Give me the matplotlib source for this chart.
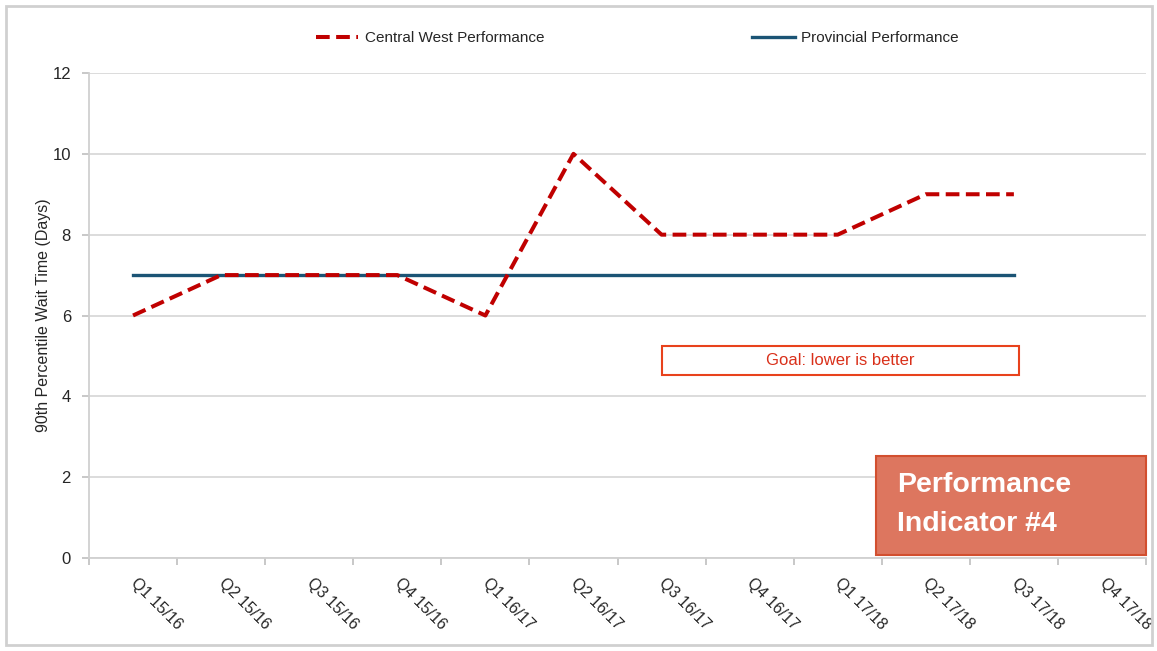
import numpy as np
import matplotlib.pyplot as plt
from matplotlib.patches import Rectangle

# data
quarters = ['Q1 15/16', 'Q2 15/16', 'Q3 15/16', 'Q4 15/16',
            'Q1 16/17', 'Q2 16/17', 'Q3 16/17', 'Q4 16/17',
            'Q1 17/18', 'Q2 17/18', 'Q3 17/18', 'Q4 17/18']
central_west = [6, 7, 7, 7, 6, 10, 8, 8, 8, 9, 9]
provincial = [7, 7, 7, 7, 7, 7, 7, 7, 7, 7, 7]

plt.rcParams['font.family'] = ['Liberation Sans', 'DejaVu Sans']

W, H = 1157, 651
fig = plt.figure(figsize=(W / 100, H / 100), dpi=100)
ax = fig.add_axes([89 / W, 1 - 558 / H, (1146 - 89) / W, (558 - 73) / H])

x_cw = np.arange(len(central_west))
x_pv = np.arange(len(provincial))
cw_line, = ax.plot(x_cw, central_west, color='#C00000', lw=2.9,
                   dashes=(3.4, 1.6), dash_capstyle='butt',
                   label='Central West Performance', zorder=3)
pv_line, = ax.plot(x_pv, provincial, color='#1B5475', lw=2.4,
                   label='Provincial Performance', zorder=2)

ax.set_xlim(-0.5, len(quarters) - 0.5)
ax.set_ylim(0, 12)
ax.set_yticks(range(0, 13, 2))
ax.yaxis.grid(True, color='#D9D9D9', lw=1.3)
ax.set_axisbelow(True)

ax.set_xticks(np.arange(len(quarters)))
ax.set_xticklabels(quarters, rotation=-45, ha='left', va='center',
                   rotation_mode='anchor', fontsize=11.5, color='#262626')
ax.tick_params(axis='x', which='major', length=0, pad=16)
ax.set_xticks(np.arange(len(quarters) + 1) - 0.5, minor=True)
ax.tick_params(axis='x', which='minor', length=5, color='#BFBFBF', width=1.2)
ax.tick_params(axis='y', length=5, color='#BFBFBF', width=1.2,
               labelsize=12, labelcolor='#262626', pad=8)

for s in ['top', 'right']:
    ax.spines[s].set_visible(False)
for s in ['left', 'bottom']:
    ax.spines[s].set_color('#D0D0D0')
    ax.spines[s].set_linewidth(1.3)

ax.set_ylabel('90th Percentile Wait Time (Days)', fontsize=11.5,
              color='#262626', labelpad=1)

fig.legend(handles=[cw_line, pv_line], loc='center', ncol=2,
           bbox_to_anchor=(637 / W, 1 - 38 / H), frameon=False,
           fontsize=11, handlelength=2.8, columnspacing=13.6,
           handletextpad=0.4, labelcolor='#262626')

# goal box
fig.patches.append(Rectangle((662 / W, 1 - 375 / H), (1019 - 662) / W,
                             (375 - 346) / H, transform=fig.transFigure,
                             facecolor='white', edgecolor='#E8421C', lw=1.5))
fig.text((662 + 1019) / 2 / W, 1 - 360.5 / H, 'Goal: lower is better',
         ha='center', va='center', fontsize=12, color='#D9301A')

# performance indicator box
fig.patches.append(Rectangle((876 / W, 1 - 555 / H), (1146 - 876) / W,
                             (555 - 456) / H, transform=fig.transFigure,
                             facecolor='#DD765F', edgecolor='#D24F2F',
                             lw=1.5, zorder=5))
fig.text(897 / W, 1 - 485 / H, 'Performance', ha='left', va='center',
         fontsize=20.5, fontweight='bold', color='white', zorder=6)
fig.text(897 / W, 1 - 524 / H, 'Indicator #4', ha='left', va='center',
         fontsize=20.5, fontweight='bold', color='white', zorder=6)

# outer frame
fig.patches.append(Rectangle((6 / W, 6 / H), (1152 - 6) / W, (645 - 6) / H,
                             transform=fig.transFigure, fill=False,
                             edgecolor='#D0D0D0', lw=2))

fig.savefig('out.png', dpi=100)
